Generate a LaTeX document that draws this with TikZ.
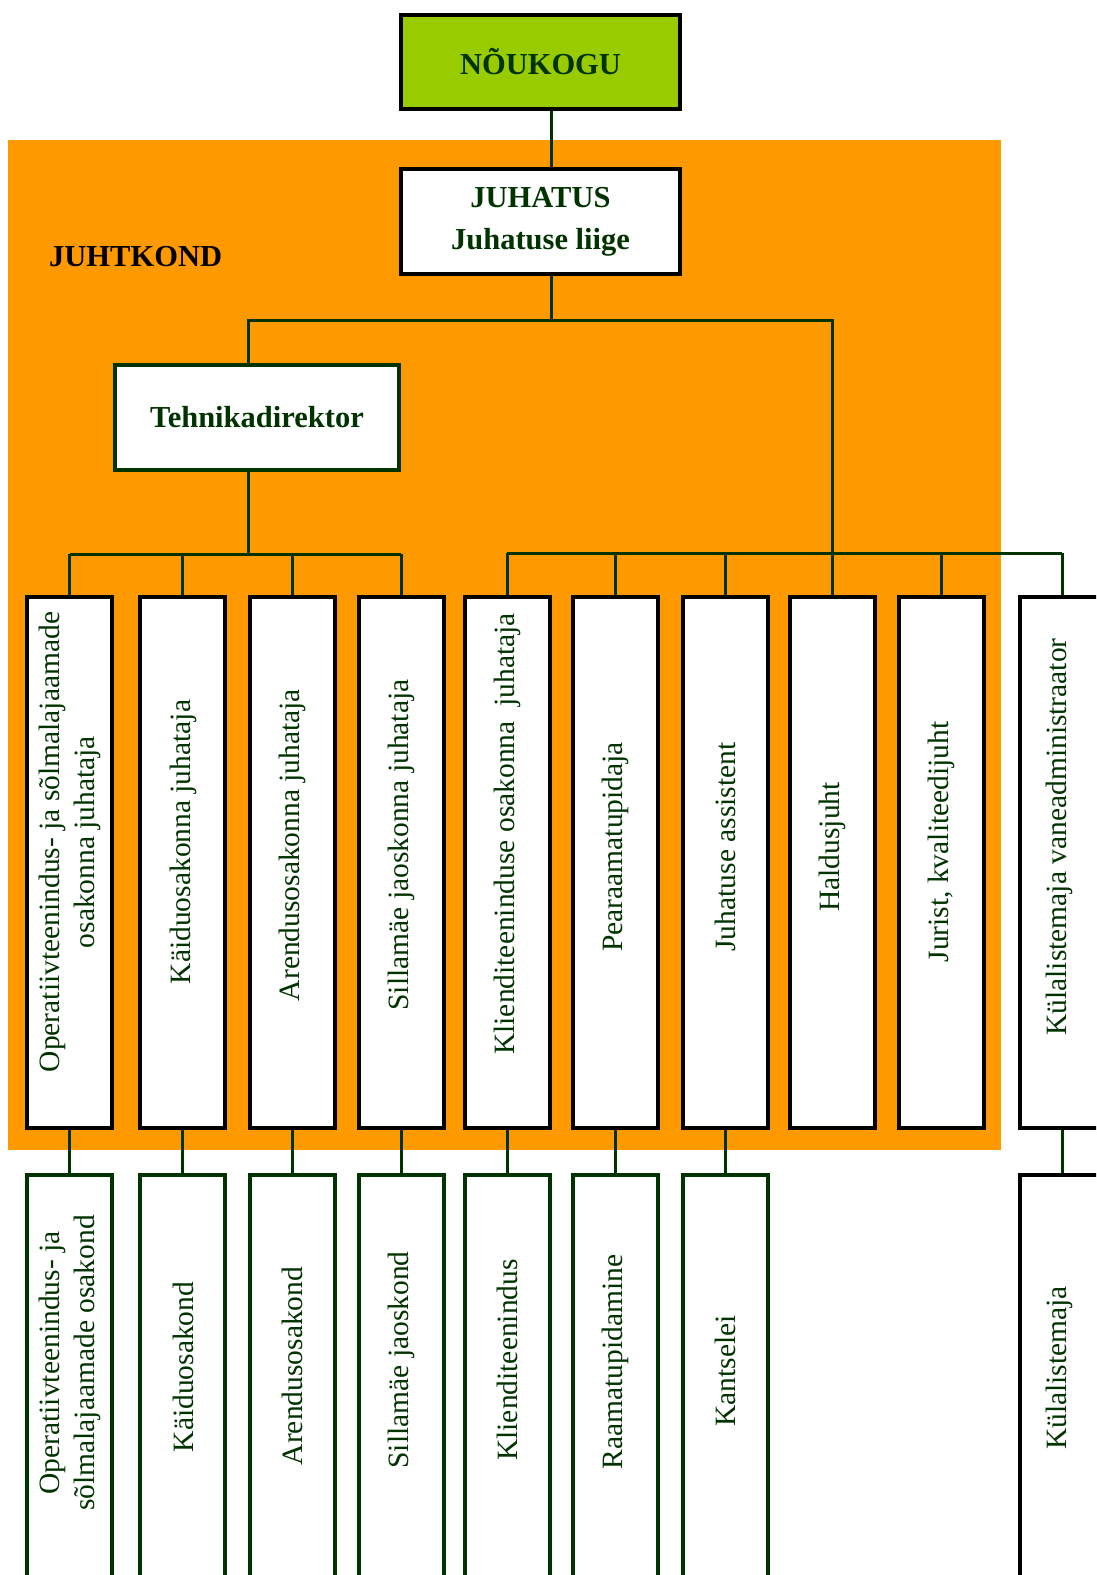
\documentclass[tikz,border=0pt]{standalone}
\usepackage{fontspec}
\setmainfont{Liberation Serif}
\definecolor{leaf}{HTML}{99CC00}
\definecolor{amber}{HTML}{FF9900}
\definecolor{pine}{HTML}{003300}

\begin{document}
\begin{tikzpicture}[x=1pt,y=-1pt,
  conn/.style={draw=pine,line width=3pt},
  headbox/.style={draw=black,line width=4pt,fill=white,minimum width=279pt,minimum height=105pt,inner sep=0pt,text=pine,align=center,font=\fontsize{30.5}{42}\selectfont\bfseries},
  upbox/.style={draw=black,line width=4pt,fill=white,minimum width=85pt,minimum height=531pt,inner sep=0pt},
  lowbox/.style={draw=pine,line width=4pt,fill=white,minimum width=85pt,minimum height=500pt,inner sep=0pt},
  vtext/.style={rotate=90,text=pine,align=center,inner sep=0pt,font=\fontsize{29.5}{35}\selectfont}]
\clip (0,0) rectangle (1096,1575);
\fill [white] (0,0) rectangle (1096,1575);
\fill [amber] (8,140) rectangle (1001,1150);

\node [anchor=base west,inner sep=0pt,font=\fontsize{30.5}{36}\selectfont\bfseries] (juhtkond) at (49,266) {JUHTKOND};

\node [headbox,fill=leaf,minimum height=94pt] (noukogu) at (540.5,62) {NÕUKOGU};
\node [headbox] (juhatus) at (540.5,221.5) {JUHATUS\\Juhatuse liige};
\node [headbox,draw=pine,minimum width=284pt] (tehnika) at (257,417.5) {Tehnikadirektor};

% upper row
\node [upbox] (b1) at (69.5,862.5) {};
\node [upbox] (b2) at (182.5,862.5) {};
\node [upbox] (b3) at (292,862.5) {};
\node [upbox] (b4) at (401,862.5) {};
\node [upbox] (b5) at (507,862.5) {};
\node [upbox] (b6) at (615.5,862.5) {};
\node [upbox] (b7) at (725.5,862.5) {};
\node [upbox] (b8) at (832,862.5) {};
\node [upbox] (b9) at (941.5,862.5) {};
\node [upbox] (b10) at (1062,862.5) {};

\node [vtext] (t1) at (70,842) {Operatiivteenindus- ja sõlmalajaamade\\osakonna juhataja};
\node [vtext] (t2) at (183,842) {Käiduosakonna juhataja};
\node [vtext] (t3) at (292,845) {Arendusosakonna juhataja};
\node [vtext] (t4) at (401,845) {Sillamäe jaoskonna juhataja};
\node [vtext] (t5) at (507,834) {Klienditeeninduse osakonna~ juhataja};
\node [vtext] (t6) at (615.5,847) {Pearaamatupidaja};
\node [vtext] (t7) at (725.5,847) {Juhatuse assistent};
\node [vtext] (t8) at (832,847) {Haldusjuht};
\node [vtext] (t9) at (941.5,842) {Jurist, kvaliteedijuht};
\node [vtext] (t10) at (1059,837) {Külalistemaja vaneadministraator};

% lower row
\node [lowbox] (l1) at (69.5,1425) {};
\node [lowbox] (l2) at (182.5,1425) {};
\node [lowbox] (l3) at (292,1425) {};
\node [lowbox] (l4) at (401,1425) {};
\node [lowbox] (l5) at (507,1425) {};
\node [lowbox] (l6) at (615.5,1425) {};
\node [lowbox] (l7) at (725.5,1425) {};
\node [lowbox,draw=black] (l10) at (1062,1425) {};

\node [vtext] (u1) at (70,1363) {Operatiivteenindus- ja\\sõlmalajaamade osakond};
\node [vtext] (u2) at (183,1367) {Käiduosakond};
\node [vtext] (u3) at (292,1366) {Arendusosakond};
\node [vtext] (u4) at (401,1360) {Sillamäe jaoskond};
\node [vtext] (u5) at (507,1360) {Klienditeenindus};
\node [vtext] (u6) at (615.5,1362) {Raamatupidamine};
\node [vtext] (u7) at (725.5,1371) {Kantselei};
\node [vtext] (u10) at (1059,1368) {Külalistemaja};

% connectors
\coordinate (split) at (551,320);
\coordinate (techx) at (248,0);
\coordinate (lbus) at (248,554);
\coordinate (rbus) at (832,553);
\draw [conn] (noukogu.south -| split) -- (juhatus.north -| split);
\draw [conn] (juhatus.south -| split) -- (split);
\draw [conn] (tehnika.north -| techx) -- (split -| techx) -- (split -| rbus) -- (rbus);
\draw [conn] (tehnika.south -| techx) -- (lbus);
\draw [conn] (b1.north |- lbus) -- (b4.north |- lbus);
\draw [conn] (b1.north |- lbus) -- (b1.north);
\draw [conn] (b2.north |- lbus) -- (b2.north);
\draw [conn] (b3.north |- lbus) -- (b3.north);
\draw [conn] (b4.north |- lbus) -- (b4.north);
\draw [conn] (b5.north |- rbus) -- (b10.north |- rbus);
\draw [conn] (b5.north |- rbus) -- (b5.north);
\draw [conn] (b6.north |- rbus) -- (b6.north);
\draw [conn] (b7.north |- rbus) -- (b7.north);
\draw [conn] (rbus) -- (b8.north);
\draw [conn] (b9.north |- rbus) -- (b9.north);
\draw [conn] (b10.north |- rbus) -- (b10.north);
\draw [conn] (b1.south) -- (l1.north);
\draw [conn] (b2.south) -- (l2.north);
\draw [conn] (b3.south) -- (l3.north);
\draw [conn] (b4.south) -- (l4.north);
\draw [conn] (b5.south) -- (l5.north);
\draw [conn] (b6.south) -- (l6.north);
\draw [conn] (b7.south) -- (l7.north);
\draw [conn] (b10.south) -- (l10.north);
\end{tikzpicture}
\end{document}
